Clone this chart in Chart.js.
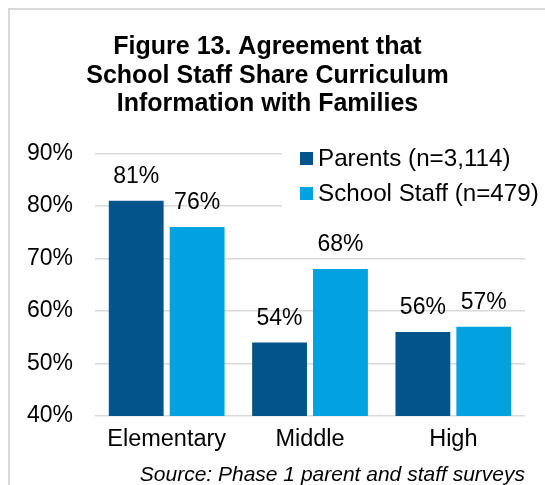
<!DOCTYPE html>
<html>
<head>
<meta charset="utf-8">
<script src="https://cdn.jsdelivr.net/npm/chart.js@4.4.0/dist/chart.umd.min.js"></script>
<style>
    body { margin: 0; background: #fff; }
    #frame {
        position: absolute; left: 8px; top: 8px; width: 600px; height: 600px;
        border-left: 2px solid #d9d9d9; border-top: 2px solid #d9d9d9;
    }
    #chart { position: absolute; left: 0; top: 0; }
</style>
</head>
<body>
<div id="frame"></div>
<canvas id="chart" width="545" height="485"></canvas>
<script>
const categories = ['Elementary', 'Middle', 'High'];
const parents = [81, 54, 56];
const staff = [76, 68, 57];
const seriesNames = ['Parents (n=3,114)', 'School Staff (n=479)'];
const titleLines = ['Figure 13. Agreement that', 'School Staff Share Curriculum', 'Information with Families'];
const sourceNote = 'Source: Phase 1 parent and staff surveys';

const FONT = "'Liberation Sans', Arial, sans-serif";

// percent labels sitting above each bar
const valueLabels = {
    id: 'valueLabels',
    afterDatasetsDraw(chart) {
        const ctx = chart.ctx;
        ctx.save();
        ctx.font = '23px ' + FONT;
        ctx.fillStyle = '#000';
        ctx.textAlign = 'center';
        ctx.textBaseline = 'middle';
        chart.data.datasets.forEach((ds, i) => {
            chart.getDatasetMeta(i).data.forEach((bar, j) => {
                ctx.fillText(ds.data[j] + '%', bar.x, bar.y - 24);
            });
        });
        ctx.restore();
    }
};

// legend box in the upper right, white behind so gridlines stop at it
const boxLegend = {
    id: 'boxLegend',
    afterDatasetsDraw(chart) {
        const ctx = chart.ctx;
        ctx.save();
        ctx.fillStyle = '#fff';
        ctx.fillRect(282, 142, 263, 70);
        ctx.font = '24.2px ' + FONT;
        ctx.textBaseline = 'middle';
        chart.data.datasets.forEach((ds, i) => {
            const y = 158 + i * 35;
            ctx.fillStyle = ds.backgroundColor;
            ctx.fillRect(300, y - 6, 13, 13);
            ctx.fillStyle = '#000';
            ctx.fillText(ds.label, 318, y + 1);
        });
        ctx.restore();
    }
};

new Chart(document.getElementById('chart'), {
    type: 'bar',
    data: {
        labels: categories,
        datasets: [
            { label: seriesNames[0], data: parents, backgroundColor: '#03548A' },
            { label: seriesNames[1], data: staff, backgroundColor: '#00A2DF' }
        ]
    },
    options: {
        responsive: false,
        animation: false,
        devicePixelRatio: 1,
        layout: { padding: { left: 10, right: 20, top: 0, bottom: 0 } },
        datasets: {
            bar: { categoryPercentage: 0.85, barPercentage: 0.9 }
        },
        plugins: {
            legend: { display: false },
            tooltip: { enabled: false },
            title: {
                display: true,
                text: titleLines,
                color: '#000',
                font: { family: FONT, size: 25, weight: 'bold', lineHeight: 1.14 },
                padding: { top: 33, bottom: 35 }
            },
            subtitle: {
                display: true,
                position: 'bottom',
                align: 'end',
                text: sourceNote,
                color: '#000',
                font: { family: FONT, size: 21, style: 'italic', lineHeight: 1 },
                padding: { top: 0, bottom: -1 }
            }
        },
        scales: {
            x: {
                grid: { display: false },
                border: { display: false },
                ticks: {
                    color: '#000',
                    padding: 1,
                    font: { family: FONT, size: 23.5 }
                },
                afterFit(scale) { scale.height = 49; }
            },
            y: {
                min: 40,
                max: 90,
                border: { display: false },
                grid: { color: '#d9d9d9', lineWidth: 1.5, drawTicks: false },
                ticks: {
                    stepSize: 10,
                    color: '#000',
                    padding: 22,
                    font: { family: FONT, size: 23 },
                    callback: v => v + '%'
                },
                afterFit(scale) { scale.width = 85; }
            }
        }
    },
    plugins: [valueLabels, boxLegend]
});
</script>
</body>
</html>
